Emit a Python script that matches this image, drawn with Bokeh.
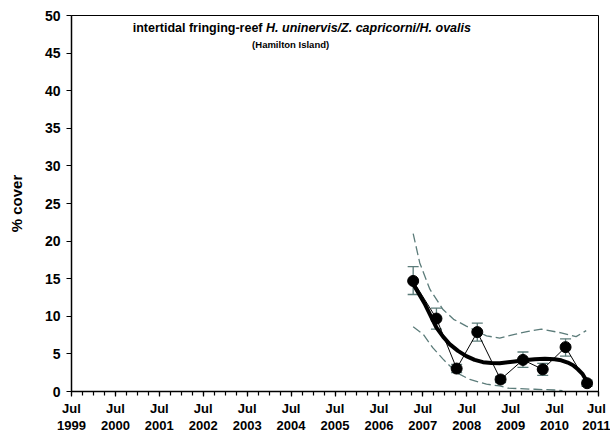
from bokeh.plotting import figure
from bokeh.models import FixedTicker, Range1d, Whisker, ColumnDataSource, Label, TeeHead
from bokeh.embed import file_html
from bokeh.resources import INLINE

# ---- data (decimal years; Jul = year + 0.5) ----
sample_year = [2007.28, 2007.81, 2008.27, 2008.74, 2009.27, 2009.78, 2010.23, 2010.75, 2011.24]
cover_mean = [14.7, 9.7, 3.05, 7.9, 1.6, 4.2, 2.95, 5.9, 1.1]
cover_upper = [16.6, 11.1, 3.6, 9.1, 2.0, 5.25, 3.75, 7.0, 1.5]
cover_lower = [12.9, 8.3, 2.5, 6.7, 1.2, 3.2, 2.15, 4.7, 0.7]

trend_year = [2007.28, 2007.42, 2007.55, 2007.81, 2007.96, 2008.11, 2008.30, 2008.49, 2008.68,
              2008.87, 2009.06, 2009.25, 2009.59, 2009.80, 2010.05, 2010.28, 2010.50, 2010.65,
              2010.80, 2010.92, 2011.03, 2011.14, 2011.24]
trend_val = [14.3, 12.9, 11.6, 8.5, 7.3, 6.3, 5.4, 4.7, 4.2,
             3.9, 3.8, 3.75, 4.0, 4.15, 4.3, 4.35, 4.3, 4.15,
             3.85, 3.5, 2.96, 2.3, 1.3]

upper_year = [2007.28, 2007.43, 2007.66, 2007.96, 2008.20, 2008.49, 2008.95, 2009.25, 2009.59,
              2009.90, 2010.20, 2010.65, 2010.99, 2011.22]
upper_val = [21.0, 17.1, 13.6, 10.9, 9.6, 8.7, 7.4, 7.1, 7.6, 8.0, 8.3, 7.8, 7.3, 8.1]

lower_year = [2007.28, 2007.51, 2007.73, 2007.96, 2008.27, 2008.57, 2008.95, 2009.25, 2009.44,
              2010.05, 2010.50, 2010.68]
lower_val = [8.6, 7.6, 5.8, 4.3, 2.5, 1.6, 0.97, 0.74, 0.44, 0.3, 0.2, 0.1]

major_ticks = [1999.5 + i for i in range(13)]
tick_labels = ["Jul\n%d" % (1999 + i) for i in range(13)]
minor_ticks = [1999.5 + q * 0.25 for q in range(49)]
y_ticks = [0, 5, 10, 15, 20, 25, 30, 35, 40, 45, 50]

BAND = "#5c7c7a"
FONT = "Liberation Sans"

p = figure(width=610, height=435, output_backend="svg", toolbar_location=None,
           x_range=Range1d(1999.5, 2011.5), y_range=Range1d(0, 50),
           min_border_left=71, min_border_right=12, min_border_top=15, min_border_bottom=43)
p.grid.visible = False
p.outline_line_color = "black"
p.outline_line_width = 1
p.background_fill_color = "white"
p.border_fill_color = "white"

# axes
xa = p.xaxis[0]
xa.ticker = FixedTicker(ticks=major_ticks, minor_ticks=minor_ticks)
xa.major_label_overrides = {t: l for t, l in zip(major_ticks, tick_labels)}
xa.major_label_text_font = FONT
xa.major_label_text_font_style = "bold"
xa.major_label_text_font_size = "13px"
xa.major_label_text_line_height = 1.15
xa.major_label_text_color = "black"
xa.major_label_standoff = 4
xa.major_tick_in = 0
xa.major_tick_out = 5
xa.minor_tick_in = 0
xa.minor_tick_out = 4
xa.axis_line_width = 1.5
xa.axis_line_color = "black"
xa.major_tick_line_width = 1.2
xa.minor_tick_line_width = 1.2

ya = p.yaxis[0]
ya.ticker = FixedTicker(ticks=y_ticks)
ya.axis_label = "% cover"
ya.axis_label_text_font = FONT
ya.axis_label_text_font_style = "bold"
ya.axis_label_text_font_size = "15px"
ya.axis_label_text_color = "black"
ya.axis_label_standoff = 17
ya.major_label_text_font = FONT
ya.major_label_text_font_style = "bold"
ya.major_label_text_font_size = "14px"
ya.major_label_text_color = "black"
ya.major_label_standoff = 6
ya.major_tick_in = 0
ya.major_tick_out = 5
ya.minor_tick_out = 0
ya.axis_line_width = 1.5
ya.axis_line_color = "black"
ya.major_tick_line_width = 1.2

# confidence bands
p.line(upper_year, upper_val, line_color=BAND, line_width=1.3, line_dash="9 4")
p.line(lower_year, lower_val, line_color=BAND, line_width=1.3, line_dash="9 4")

# error bars
src = ColumnDataSource(dict(x=sample_year, m=cover_mean, up=cover_upper, lo=cover_lower))
wh = Whisker(source=src, base="x", upper="up", lower="lo", line_color=BAND, line_width=1.3,
             upper_head=TeeHead(size=11, line_color=BAND, line_width=1.3),
             lower_head=TeeHead(size=11, line_color=BAND, line_width=1.3))
p.add_layout(wh)

# thin connecting line + trend
p.line("x", "m", source=src, line_color="black", line_width=1)
p.line(trend_year, trend_val, line_color="black", line_width=4)
p.scatter("x", "m", source=src, size=11, fill_color="black", line_color="black")

# titles
p.add_layout(Label(x=2003.85, y=48.4, text="intertidal fringing-reef", text_align="right",
                   text_baseline="alphabetic", text_font=FONT, text_font_style="bold",
                   text_font_size="12.5px", text_color="black"))
p.add_layout(Label(x=2003.93, y=48.4, text="H. uninervis/Z. capricorni/H. ovalis", text_align="left",
                   text_baseline="alphabetic", text_font=FONT, text_font_style="bold italic",
                   text_font_size="12.5px", text_color="black"))
p.add_layout(Label(x=2004.49, y=46.1, text="(Hamilton Island)", text_align="center",
                   text_baseline="alphabetic", text_font=FONT, text_font_style="bold",
                   text_font_size="9.5px", text_color="black"))

open("out.html", "w").write(file_html(p, INLINE))
